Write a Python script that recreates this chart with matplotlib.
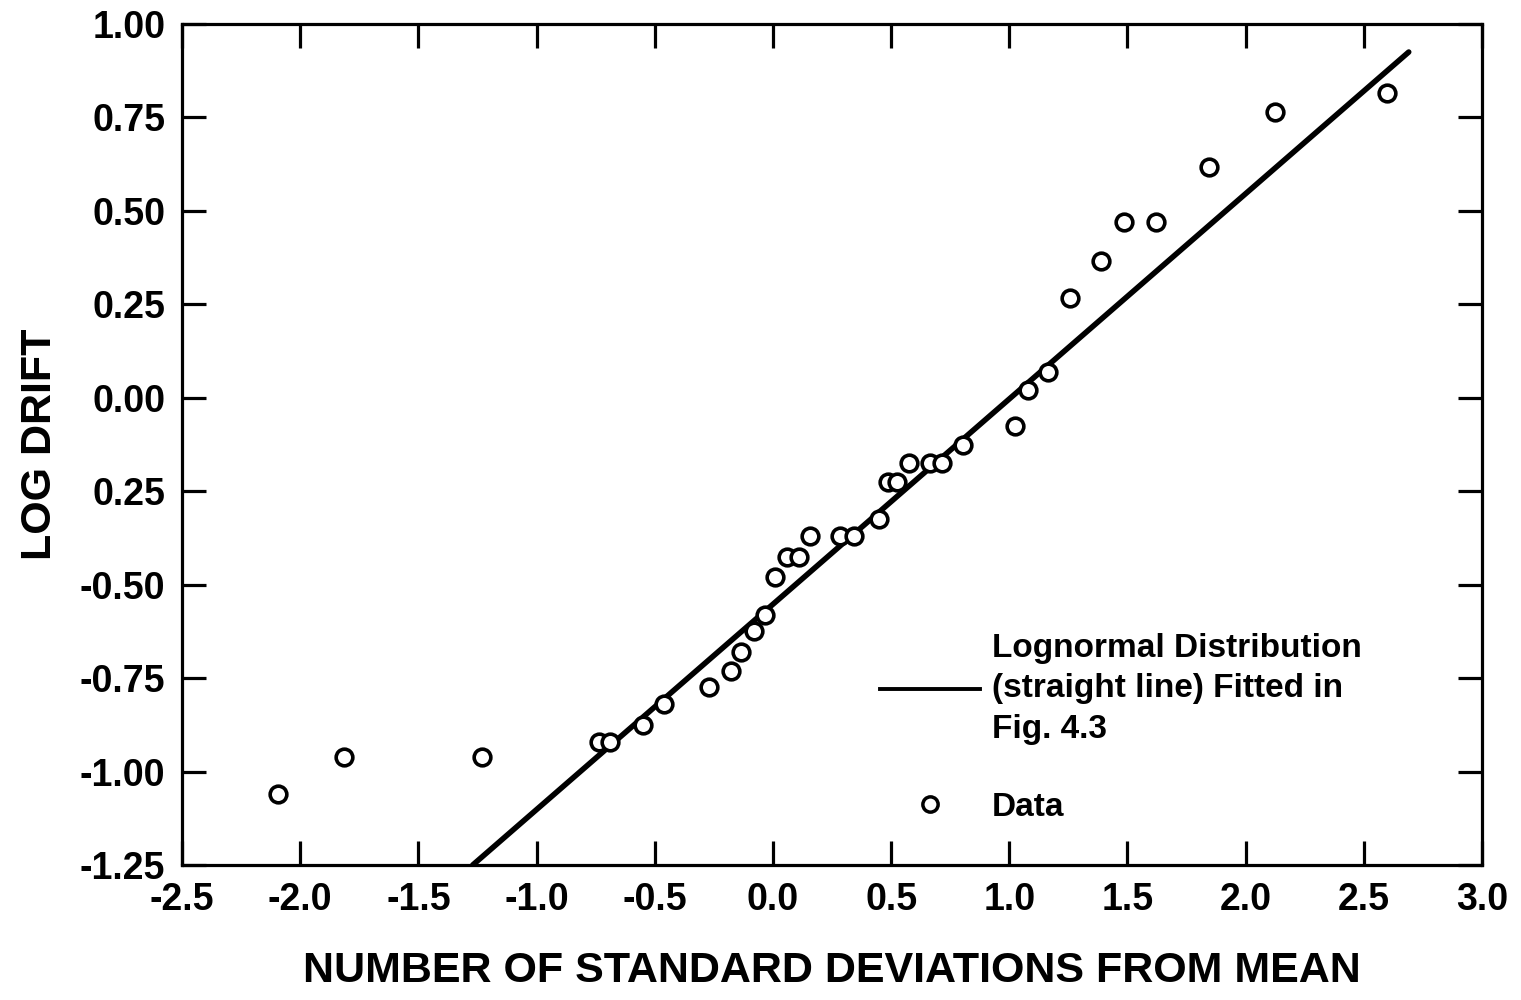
import numpy as np
import matplotlib.pyplot as plt
from matplotlib.lines import Line2D

plt.rcParams['font.family'] = ['Liberation Sans', 'DejaVu Sans']
plt.rcParams['font.weight'] = 'bold'

# data
std_devs = [-2.093, -1.814, -1.229, -0.737, -0.69, -0.551, -0.462, -0.271, -0.178,
            -0.136, -0.08, -0.034, 0.008, 0.059, 0.110, 0.155, 0.284, 0.343,
            0.449, 0.487, 0.525, 0.576, 0.665, 0.716, 0.805, 1.025, 1.081,
            1.165, 1.258, 1.39, 1.487, 1.619, 1.847, 2.123, 2.597]
log_drift = [-1.06, -0.96, -0.96, -0.92, -0.92, -0.875, -0.82, -0.775, -0.73,
             -0.68, -0.625, -0.58, -0.48, -0.425, -0.425, -0.37, -0.37, -0.37,
             -0.325, -0.225, -0.225, -0.175, -0.175, -0.175, -0.125, -0.075, 0.02,
             0.068, 0.267, 0.365, 0.47, 0.47, 0.617, 0.765, 0.815]

# fitted lognormal line end points
fit_x = [-1.27, 2.69]
fit_y = [-1.25, 0.925]

x_ticks = [-2.5, -2.0, -1.5, -1.0, -0.5, 0.0, 0.5, 1.0, 1.5, 2.0, 2.5, 3.0]
x_labels = ['-2.5', '-2.0', '-1.5', '-1.0', '-0.5', '0.0', '0.5', '1.0', '1.5', '2.0', '2.5', '3.0']
y_ticks = [-1.25, -1.0, -0.75, -0.5, -0.25, 0.0, 0.25, 0.5, 0.75, 1.0]
y_labels = ['-1.25', '-1.00', '-0.75', '-0.50', '0.25', '0.00', '0.25', '0.50', '0.75', '1.00']

fig = plt.figure(figsize=(15.21, 10), dpi=100)
ax = fig.add_axes([182 / 1521, 1 - 865 / 1000, 1300 / 1521, 841 / 1000])

ax.plot(fit_x, fit_y, color='black', linewidth=4.0, solid_capstyle='round')
ax.plot(std_devs, log_drift, linestyle='none', marker='o', markersize=12,
        markerfacecolor='white', markeredgecolor='black', markeredgewidth=2.6)

ax.set_xlim(-2.5, 3.0)
ax.set_ylim(-1.25, 1.0)
ax.set_xticks(x_ticks)
ax.set_xticklabels(x_labels)
ax.set_yticks(y_ticks)
ax.set_yticklabels(y_labels)

ax.tick_params(direction='in', length=17, width=2.3, labelsize=27, pad=12,
               top=True, right=True)
for sp in ax.spines.values():
    sp.set_linewidth(2.3)

ax.set_xlabel('NUMBER OF STANDARD DEVIATIONS FROM MEAN', fontsize=31,
              fontweight='bold', labelpad=24)
ax.set_ylabel('LOG DRIFT', fontsize=31, fontweight='bold', labelpad=14)

handles = [Line2D([], [], color='black', linewidth=2.8),
           Line2D([], [], linestyle='none', marker='o', markersize=11,
                  markerfacecolor='white', markeredgecolor='black', markeredgewidth=2.5)]
labels = ['Lognormal Distribution\n(straight line) Fitted in\nFig. 4.3', 'Data']
leg = ax.legend(handles, labels, loc='upper left', bbox_to_anchor=(0.537, 0.276),
                frameon=False, prop={'size': 24, 'weight': 'bold'}, handlelength=3.0,
                handletextpad=0.35, labelspacing=1.4, borderpad=0, borderaxespad=0)
for t in leg.get_texts():
    t.set_linespacing(1.4)

fig.savefig('out.png', dpi=100)
